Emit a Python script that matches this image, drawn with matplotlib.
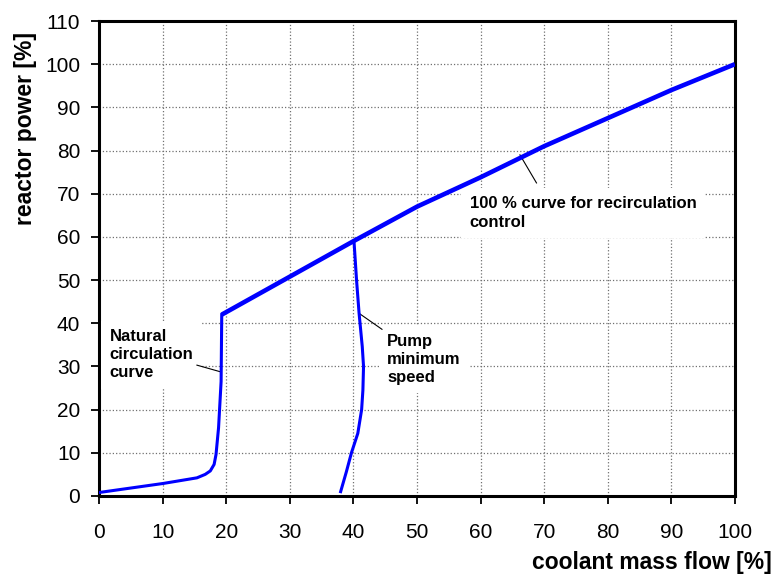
import matplotlib
matplotlib.use("Agg")
import matplotlib.pyplot as plt

plt.rcParams['font.family'] = ['Liberation Sans', 'DejaVu Sans']

# 100 % curve for recirculation control
recirc_flow = [19.3, 40, 50, 60, 70, 80, 90, 100]
recirc_power = [42, 59, 67, 73.8, 81, 87.5, 94, 100]

# natural circulation curve
nat_flow = [0, 10.1, 15.4, 16.7, 17.5, 18.1, 18.4, 18.8, 19.2, 19.3]
nat_power = [0.8, 2.9, 4.2, 5.0, 5.8, 7.3, 9.6, 15.8, 26.5, 42]

# pump minimum speed
pump_flow = [40.1, 40.5, 40.9, 41.4, 41.6, 41.5, 41.3, 40.7, 39.7, 38.9, 38.0]
pump_power = [59, 50, 42.3, 34.6, 30, 24.5, 20, 14.5, 10, 5.6, 1]

x_ticks = list(range(0, 101, 10))
y_ticks = list(range(0, 111, 10))

fig = plt.figure(figsize=(7.76, 5.79), dpi=100)
ax = fig.add_axes([0.1276, 0.1434, 0.8194, 0.8203])

ax.plot(recirc_flow, recirc_power, color='#0000FF', lw=3.3, zorder=5, solid_capstyle='butt')
ax.plot(nat_flow, nat_power, color='#0000FF', lw=2.2, zorder=5)
ax.plot(pump_flow, pump_power, color='#0000FF', lw=2.2, zorder=5)

ax.set_xlim(0, 100)
ax.set_ylim(0, 110)
ax.set_xticks(x_ticks)
ax.set_yticks(y_ticks)
ax.tick_params(direction='out', length=5.5, width=1.3, labelsize=15)
ax.tick_params(axis='x', pad=14)
ax.tick_params(axis='y', pad=8)
ax.grid(True, color='#707070', ls=':', lw=0.9, zorder=0)
ax.set_axisbelow(True)
for s in ax.spines.values():
    s.set_linewidth(2.2)

box = dict(facecolor='white', edgecolor='none', pad=6)
ax.text(1.7, 38.6, "Natural\ncirculation\ncurve", fontsize=12, fontweight='bold',
        va='top', ha='left', bbox=box, zorder=3, linespacing=1.25)
ax.text(45.3, 37.5, "Pump\nminimum\nspeed", fontsize=12, fontweight='bold',
        va='top', ha='left', bbox=box, zorder=3, linespacing=1.25)
ax.text(58.3, 69.4, "100 % curve for recirculation\ncontrol", fontsize=12, fontweight='bold',
        va='top', ha='left', bbox=box, zorder=3, linespacing=1.3)

# leader lines
ax.plot([15.4, 19.0], [30.3, 28.8], color='black', lw=0.8, zorder=4)
ax.plot([44.5, 40.9], [38.6, 42.3], color='black', lw=0.8, zorder=4)
ax.plot([68.8, 66.2], [72.5, 79.0], color='black', lw=0.8, zorder=4)

fig.text(0.995, 0.008, "coolant mass flow [%]", fontsize=16.5, fontweight='bold',
         ha='right', va='bottom')
fig.text(0.018, 0.945, "reactor power [%]", fontsize=16.5, fontweight='bold',
         ha='left', va='top', rotation=90)

fig.savefig("out.png", dpi=100)
